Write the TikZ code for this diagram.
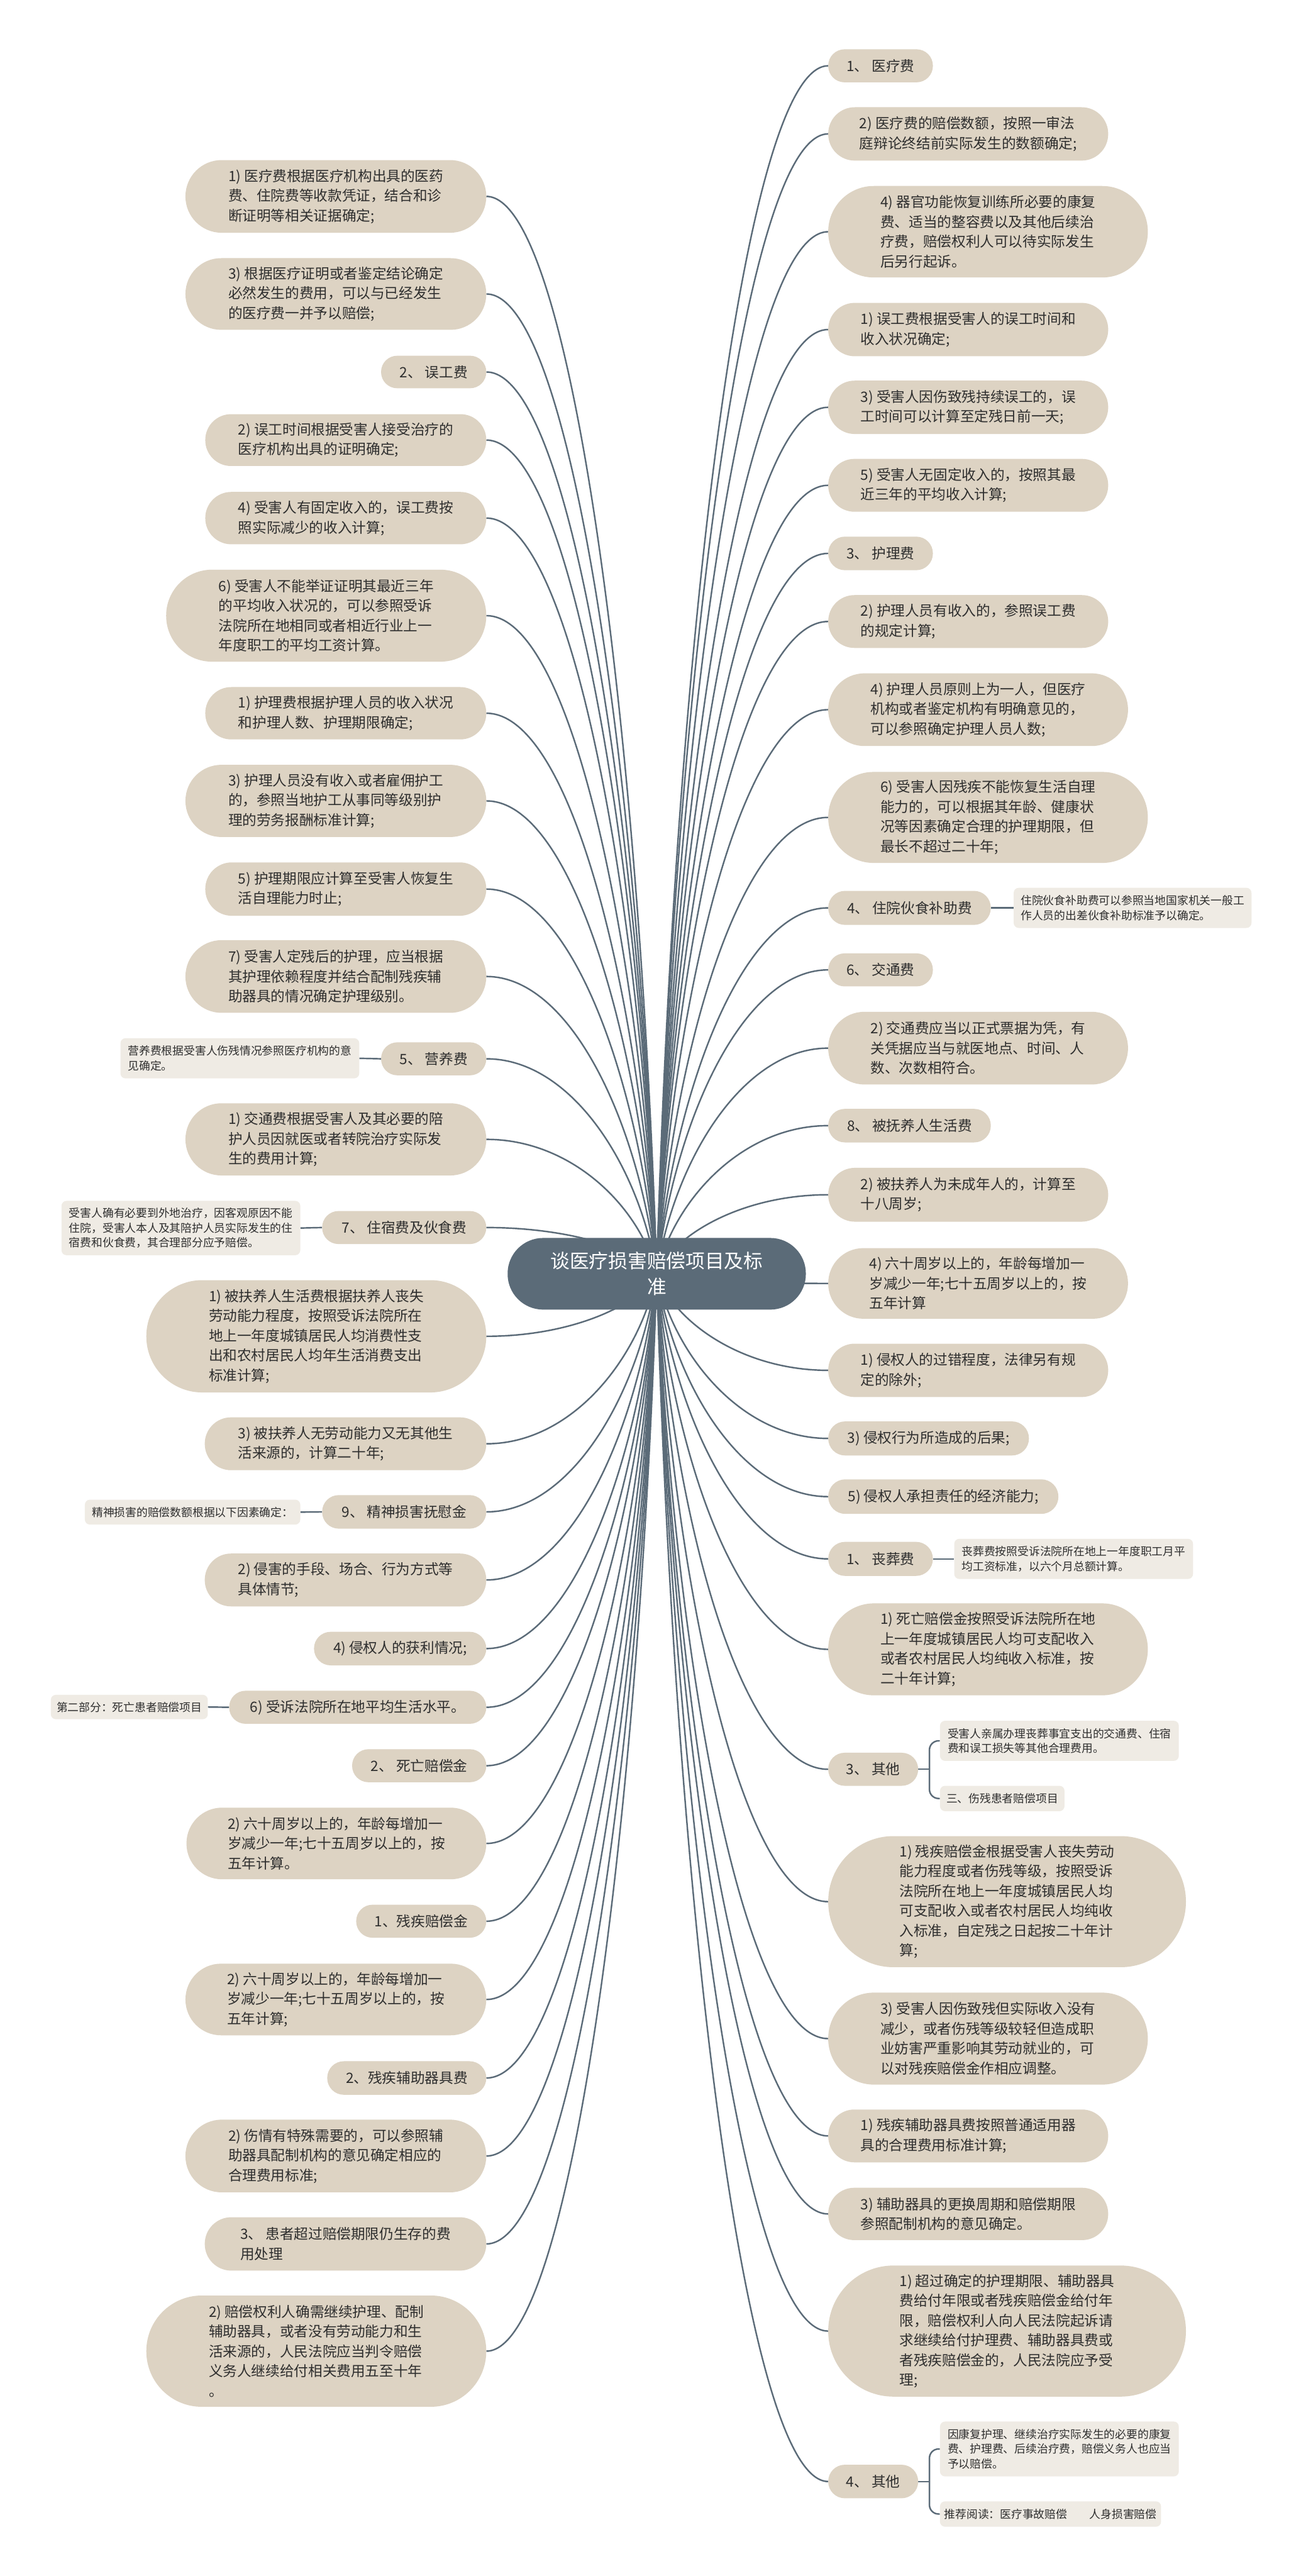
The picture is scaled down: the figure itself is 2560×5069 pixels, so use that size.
\documentclass[tikz,border=0pt]{standalone}
\usepackage{fontspec}
\newfontfamily\cjk{Noto Sans CJK SC}
\usetikzlibrary{calc,backgrounds}
\definecolor{nodefill}{HTML}{DDD3C3}
\definecolor{notefill}{HTML}{EFEBE4}
\definecolor{rootfill}{HTML}{5B6B78}
\definecolor{linec}{HTML}{5B6B78}
\definecolor{textc}{HTML}{2E2E2E}
\tikzset{
  mmbox/.style={fill=nodefill, text=textc, font=\cjk\fontsize{28pt}{39pt}\selectfont, align=left, inner sep=0pt},
  mmnote/.style={fill=notefill, text=textc, font=\cjk\fontsize{22pt}{29pt}\selectfont, align=left, inner sep=0pt, rounded corners=10pt},
  mmroot/.style={fill=rootfill, text=white, font=\cjk\fontsize{38pt}{50pt}\selectfont, align=center, inner sep=0pt},
  conn/.style={draw=linec, line width=3pt},
}
\newcommand\mmbx[6]{%
  \pgfmathsetmacro\mmw{#4-#2}%
  \pgfmathsetmacro\mmh{#5-#3}%
  \pgfmathsetmacro\mmr{\mmh/2-0.3}%
  \node[mmbox, minimum width=\mmw pt, minimum height=\mmh pt, rounded corners=\mmr pt] (#1) at ({(#2+#4)/2},{(#3+#5)/2}) {#6};%
}
\newcommand\mmnt[6]{%
  \pgfmathsetmacro\mmw{#4-#2}%
  \pgfmathsetmacro\mmh{#5-#3}%
  \node[mmnote, minimum width=\mmw pt, minimum height=\mmh pt] (#1) at ({(#2+#4)/2},{(#3+#5)/2}) {#6};%
}
\newcommand\mmconn[1]{%
  \draw[conn] let \p1=(root.center), \p2=(#1) in (\p1) .. controls ({\x1+0.1*(\x2-\x1)},{\y1+0.5*(\y2-\y1)}) and ({\x1+0.5*(\x2-\x1)},{\y2}) .. (\p2);%
}
\begin{document}
\begin{tikzpicture}[x=1pt,y=-1pt]
\useasboundingbox (0,0) rectangle (2560,5069);
% root
\pgfmathsetmacro\mmr{70}
\node[mmroot, minimum width=587pt, minimum height=141pt, rounded corners=70pt] (root) at (1292.5,2506.5) {谈医疗损害赔偿项目及标\\准};
% left column
\mmbx{L1}{365}{315}{957}{458}{1) 医疗费根据医疗机构出具的医药\\费、住院费等收款凭证，结合和诊\\断证明等相关证据确定;}
\mmbx{L2}{365}{508}{957}{649}{3) 根据医疗证明或者鉴定结论确定\\必然发生的费用，可以与已经发生\\的医疗费一并予以赔偿;}
\mmbx{L3}{750}{700}{957}{764}{2、 误工费}
\mmbx{L4}{404}{815}{957}{917}{2) 误工时间根据受害人接受治疗的\\医疗机构出具的证明确定;}
\mmbx{L5}{404}{968}{957}{1071}{4) 受害人有固定收入的，误工费按\\照实际减少的收入计算;}
\mmbx{L6}{327}{1121}{957}{1302}{6) 受害人不能举证证明其最近三年\\的平均收入状况的，可以参照受诉\\法院所在地相同或者相近行业上一\\年度职工的平均工资计算。}
\mmbx{L7}{404}{1352}{957}{1455}{1) 护理费根据护理人员的收入状况\\和护理人数、护理期限确定;}
\mmbx{L8}{365}{1505}{957}{1647}{3) 护理人员没有收入或者雇佣护工\\的，参照当地护工从事同等级别护\\理的劳务报酬标准计算;}
\mmbx{L9}{404}{1697}{957}{1802}{5) 护理期限应计算至受害人恢复生\\活自理能力时止;}
\mmbx{L10}{365}{1850}{957}{1993}{7) 受害人定残后的护理，应当根据\\其护理依赖程度并结合配制残疾辅\\助器具的情况确定护理级别。}
\mmbx{L11}{750}{2051}{957}{2116}{5、 营养费}
\mmbx{L12}{365}{2171}{957}{2313}{1) 交通费根据受害人及其必要的陪\\护人员因就医或者转院治疗实际发\\生的费用计算;}
\mmbx{L13}{634}{2383}{957}{2448}{7、 住宿费及伙食费}
\mmbx{L14}{288}{2519}{957}{2740}{1) 被扶养人生活费根据扶养人丧失\\劳动能力程度，按照受诉法院所在\\地上一年度城镇居民人均消费性支\\出和农村居民人均年生活消费支出\\标准计算;}
\mmbx{L15}{403}{2789}{957}{2893}{3) 被扶养人无劳动能力又无其他生\\活来源的，计算二十年;}
\mmbx{L16}{634}{2942}{957}{3008}{9、 精神损害抚慰金}
\mmbx{L17}{403}{3057}{957}{3161}{2) 侵害的手段、场合、行为方式等\\具体情节;}
\mmbx{L18}{618}{3211}{957}{3277}{4) 侵权人的获利情况;}
\mmbx{L19}{451}{3327}{957}{3392}{6) 受诉法院所在地平均生活水平。}
\mmbx{L20}{693}{3442}{957}{3507}{2、 死亡赔偿金}
\mmbx{L21}{367}{3557}{957}{3698}{2) 六十周岁以上的，年龄每增加一\\岁减少一年;七十五周岁以上的，按\\五年计算。}
\mmbx{L22}{701}{3748}{957}{3813}{1、残疾赔偿金}
\mmbx{L23}{365}{3864}{957}{4005}{2) 六十周岁以上的，年龄每增加一\\岁减少一年;七十五周岁以上的，按\\五年计算;}
\mmbx{L24}{644}{4056}{957}{4122}{2、残疾辅助器具费}
\mmbx{L25}{365}{4171}{957}{4314}{2) 伤情有特殊需要的，可以参照辅\\助器具配制机构的意见确定相应的\\合理费用标准;}
\mmbx{L26}{403}{4363}{957}{4468}{3、 患者超过赔偿期限仍生存的费\\用处理}
\mmbx{L27}{288}{4517}{957}{4736}{2) 赔偿权利人确需继续护理、配制\\辅助器具，或者没有劳动能力和生\\活来源的，人民法院应当判令赔偿\\义务人继续给付相关费用五至十年\\。}
% left notes
\mmnt{N11}{237}{2043}{707}{2122}{营养费根据受害人伤残情况参照医疗机构的意\\见确定。}
\mmnt{N13}{121}{2363}{591}{2470}{受害人确有必要到外地治疗，因客观原因不能\\住院，受害人本人及其陪护人员实际发生的住\\宿费和伙食费，其合理部分应予赔偿。}
\mmnt{N16}{167}{2951}{591}{3000}{精神损害的赔偿数额根据以下因素确定：}
\mmnt{N19}{100}{3335}{409}{3383}{第二部分：死亡患者赔偿项目}
% right column
\mmbx{R1}{1630}{97}{1836}{162}{1、 医疗费}
\mmbx{R2}{1630}{211}{2181}{316}{2) 医疗费的赔偿数额，按照一审法\\庭辩论终结前实际发生的数额确定;}
\mmbx{R3}{1630}{366}{2259}{546}{4) 器官功能恢复训练所必要的康复\\费、适当的整容费以及其他后续治\\疗费，赔偿权利人可以待实际发生\\后另行起诉。}
\mmbx{R4}{1630}{596}{2181}{701}{1) 误工费根据受害人的误工时间和\\收入状况确定;}
\mmbx{R5}{1630}{749}{2181}{854}{3) 受害人因伤致残持续误工的，误\\工时间可以计算至定残日前一天;}
\mmbx{R6}{1630}{903}{2181}{1007}{5) 受害人无固定收入的，按照其最\\近三年的平均收入计算;}
\mmbx{R7}{1630}{1056}{1836}{1122}{3、 护理费}
\mmbx{R8}{1630}{1171}{2181}{1275}{2) 护理人员有收入的，参照误工费\\的规定计算;}
\mmbx{R9}{1630}{1325}{2220}{1468}{4) 护理人员原则上为一人，但医疗\\机构或者鉴定机构有明确意见的，\\可以参照确定护理人员人数;}
\mmbx{R10}{1630}{1519}{2259}{1698}{6) 受害人因残疾不能恢复生活自理\\能力的，可以根据其年龄、健康状\\况等因素确定合理的护理期限，但\\最长不超过二十年;}
\mmbx{R11}{1630}{1753}{1950}{1820}{4、 住院伙食补助费}
\mmbx{R12}{1630}{1876}{1836}{1941}{6、 交通费}
\mmbx{R13}{1630}{1991}{2220}{2134}{2) 交通费应当以正式票据为凭，有\\关凭据应当与就医地点、时间、人\\数、次数相符合。}
\mmbx{R14}{1630}{2182}{1950}{2248}{8、 被抚养人生活费}
\mmbx{R15}{1630}{2298}{2181}{2404}{2) 被扶养人为未成年人的，计算至\\十八周岁;}
\mmbx{R16}{1630}{2456}{2220}{2595}{4) 六十周岁以上的，年龄每增加一\\岁减少一年;七十五周岁以上的，按\\五年计算}
\mmbx{R17}{1630}{2644}{2181}{2749}{1) 侵权人的过错程度，法律另有规\\定的除外;}
\mmbx{R18}{1630}{2797}{2025}{2864}{3) 侵权行为所造成的后果;}
\mmbx{R19}{1630}{2911}{2083}{2979}{5) 侵权人承担责任的经济能力;}
\mmbx{R20}{1630}{3034}{1836}{3101}{1、 丧葬费}
\mmbx{R21}{1630}{3155}{2259}{3336}{1) 死亡赔偿金按照受诉法院所在地\\上一年度城镇居民人均可支配收入\\或者农村居民人均纯收入标准，按\\二十年计算;}
\mmbx{R22}{1630}{3449}{1807}{3514}{3、 其他}
\mmbx{R23}{1630}{3613}{2334}{3871}{1) 残疾赔偿金根据受害人丧失劳动\\能力程度或者伤残等级，按照受诉\\法院所在地上一年度城镇居民人均\\可支配收入或者农村居民人均纯收\\入标准，自定残之日起按二十年计\\算;}
\mmbx{R24}{1630}{3921}{2259}{4102}{3) 受害人因伤致残但实际收入没有\\减少，或者伤残等级较轻但造成职\\业妨害严重影响其劳动就业的，可\\以对残疾赔偿金作相应调整。}
\mmbx{R25}{1630}{4151}{2181}{4255}{1) 残疾辅助器具费按照普通适用器\\具的合理费用标准计算;}
\mmbx{R26}{1630}{4305}{2181}{4408}{3) 辅助器具的更换周期和赔偿期限\\参照配制机构的意见确定。}
\mmbx{R27}{1630}{4458}{2334}{4716}{1) 超过确定的护理期限、辅助器具\\费给付年限或者残疾赔偿金给付年\\限，赔偿权利人向人民法院起诉请\\求继续给付护理费、辅助器具费或\\者残疾赔偿金的，人民法院应予受\\理;}
\mmbx{R28}{1630}{4850}{1807}{4916}{4、 其他}
% right notes
\mmnt{M11}{1995}{1747}{2463}{1826}{住院伙食补助费可以参照当地国家机关一般工\\作人员的出差伙食补助标准予以确定。}
\mmnt{M20}{1878}{3028}{2348}{3107}{丧葬费按照受诉法院所在地上一年度职工月平\\均工资标准，以六个月总额计算。}
\mmnt{M22a}{1850}{3386}{2320}{3465}{受害人亲属办理丧葬事宜支出的交通费、住宿\\费和误工损失等其他合理费用。}
\mmnt{M22b}{1850}{3514}{2095}{3564}{三、伤残患者赔偿项目}
\mmnt{M28a}{1850}{4765}{2320}{4873}{因康复护理、继续治疗实际发生的必要的康复\\费、护理费、后续治疗费，赔偿义务人也应当\\予以赔偿。}
\mmnt{M28b}{1850}{4922}{2285}{4972}{推荐阅读：医疗事故赔偿　　人身损害赔偿}
% connectors
\begin{scope}[on background layer]
\fill[white] (0,0) rectangle (2560,5069);
\foreach \i in {1,...,27} {\mmconn{L\i.east}}
\foreach \i in {1,...,28} {\mmconn{R\i.west}}
\draw[conn] (L11.west) -- (N11.east);
\draw[conn] (L13.west) -- (N13.east);
\draw[conn] (L16.west) -- (N16.east);
\draw[conn] (L19.west) -- (N19.east);
\draw[conn] (R11.east) -- (M11.west);
\draw[conn] (R20.east) -- (M20.west);
\draw[conn] (R22.east) -- ++(22,0) coordinate (k22);
\draw[conn, rounded corners=18pt] (M22a.west) -| (k22) |- (M22b.west);
\draw[conn] (R28.east) -- ++(22,0) coordinate (k28);
\draw[conn, rounded corners=18pt] (M28a.west) -| (k28) |- (M28b.west);
\end{scope}
\end{tikzpicture}
\end{document}
